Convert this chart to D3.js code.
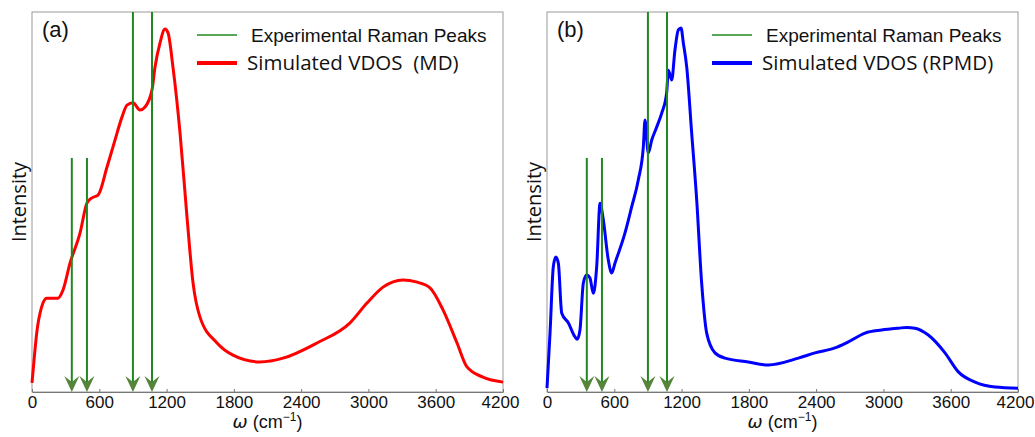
<!DOCTYPE html>
<html><head><meta charset="utf-8">
<script src="https://cdn.jsdelivr.net/npm/d3@7"></script>
<style>body{margin:0;background:#fff;} svg{display:block;}</style>
</head><body>
<svg id="chart" width="1035" height="437"></svg>
<script>
const xTicks = [0, 600, 1200, 1800, 2400, 3000, 3600, 4200];
const ramanPeaks = [355, 490, 900, 1070];
const ramanHeights = [0.616, 0.616, 1.0, 1.0];

const omegaMD = [0, 20, 42, 86, 131, 232, 276, 339, 428, 490, 535, 589, 669, 740, 803, 847, 901, 963, 1008, 1070, 1097, 1141, 1186, 1213, 1257, 1320, 1382, 1436, 1498, 1650, 1792, 2033, 2238, 2541, 2836, 2987, 3130, 3308, 3433, 3549, 3665, 3790, 3879, 4021, 4200];
const intensityMD = [0.024, 0.09, 0.155, 0.224, 0.247, 0.247, 0.268, 0.339, 0.418, 0.497, 0.511, 0.518, 0.592, 0.663, 0.724, 0.755, 0.761, 0.742, 0.75, 0.795, 0.855, 0.918, 0.955, 0.945, 0.855, 0.682, 0.461, 0.287, 0.197, 0.129, 0.097, 0.079, 0.089, 0.129, 0.182, 0.234, 0.276, 0.295, 0.289, 0.274, 0.216, 0.129, 0.066, 0.039, 0.026];

const omegaRPMD = [0, 27, 56, 78, 101, 131, 190, 250, 270, 294, 324, 354, 383, 413, 443, 473, 502, 547, 577, 606, 695, 755, 814, 859, 874, 903, 934, 978, 1023, 1067, 1082, 1112, 1141, 1171, 1195, 1216, 1246, 1290, 1335, 1379, 1424, 1498, 1587, 1795, 1973, 2241, 2390, 2568, 2687, 2836, 2984, 3133, 3207, 3281, 3400, 3549, 3668, 3817, 3995, 4200];
const intensityRPMD = [0.01, 0.155, 0.329, 0.355, 0.339, 0.208, 0.182, 0.145, 0.139, 0.163, 0.287, 0.308, 0.3, 0.26, 0.329, 0.497, 0.453, 0.347, 0.313, 0.339, 0.418, 0.487, 0.558, 0.645, 0.716, 0.629, 0.663, 0.697, 0.734, 0.787, 0.847, 0.821, 0.9, 0.953, 0.958, 0.918, 0.855, 0.682, 0.505, 0.287, 0.155, 0.103, 0.089, 0.079, 0.071, 0.089, 0.103, 0.116, 0.132, 0.155, 0.163, 0.168, 0.17, 0.168, 0.15, 0.103, 0.053, 0.026, 0.013, 0.01];

const panels = [
  {x0: 32, x1: 503, label: "(a)", omega: omegaMD, inten: intensityMD, color: "#ff0000", name: "Simulated VDOS  (MD)"},
  {x0: 547, x1: 1018, label: "(b)", omega: omegaRPMD, inten: intensityRPMD, color: "#0000ff", name: "Simulated VDOS (RPMD)"}
];
const yTop = 12, yBot = 392;
const svg = d3.select("#chart");
const sans = "'Liberation Sans', Arial, sans-serif";
const open = "'Open Sans', sans-serif";

panels.forEach(p => {
  const x = d3.scaleLinear().domain([0, 4200]).range([p.x0, p.x1]);
  const y = d3.scaleLinear().domain([0, 1]).range([yBot, yTop]);
  const g = svg.append("g");

  g.append("rect").attr("x", p.x0).attr("y", yTop).attr("width", p.x1 - p.x0).attr("height", yBot - yTop)
    .attr("fill", "none").attr("stroke", "#9a9a9a").attr("stroke-width", 1);

  const ax = g.append("g").attr("transform", `translate(0,${yBot})`)
    .call(d3.axisBottom(x).tickValues(xTicks).tickFormat(d3.format("d")).tickSizeInner(-3).tickSizeOuter(0));
  ax.select(".domain").attr("stroke", "#777");
  ax.selectAll(".tick line").attr("stroke", "#777");
  ax.selectAll(".tick text").attr("font-family", sans).attr("font-size", 17).attr("fill", "#111")
    .attr("y", 16).attr("dy", 0)
    .attr("dx", d => d === 4200 ? -3 : 0);

  const data = p.omega.map((w, i) => [w, p.inten[i]]);
  g.append("path").datum(data)
    .attr("d", d3.line().x(d => x(d[0])).y(d => y(d[1])).curve(d3.curveMonotoneX))
    .attr("fill", "none").attr("stroke", p.color).attr("stroke-width", 3).attr("stroke-linejoin", "round");

  ramanPeaks.forEach((w, i) => {
    g.append("line").attr("x1", x(w)).attr("x2", x(w)).attr("y1", y(ramanHeights[i])).attr("y2", yBot - 6)
      .attr("stroke", "#1f8a1f").attr("stroke-width", 2);
    g.append("path").attr("transform", `translate(${x(w)},${yBot})`)
      .attr("d", "M0,0 L-7.5,-16 L0,-10 L7.5,-16 Z").attr("fill", "#55843a");
  });

  g.append("text").attr("x", p.x0 + 10).attr("y", 37).text(p.label)
    .attr("font-family", sans).attr("font-size", 22).attr("fill", "#111");

  g.append("line").attr("x1", p.x0 + 165).attr("x2", p.x0 + 205).attr("y1", 35).attr("y2", 35)
    .attr("stroke", "#1f8a1f").attr("stroke-width", 1.5);
  g.append("text").attr("x", p.x0 + 219).attr("y", 42).text("Experimental Raman Peaks")
    .attr("font-family", sans).attr("font-size", 19).attr("fill", "#111");
  g.append("line").attr("x1", p.x0 + 165).attr("x2", p.x0 + 205).attr("y1", 63).attr("y2", 63)
    .attr("stroke", p.color).attr("stroke-width", 4);
  g.append("text").attr("x", p.x0 + 215).attr("y", 70).text(p.name)
    .style("white-space", "pre")
    .attr("font-family", open).attr("font-size", 20.5).attr("fill", "#111");

  g.append("text").attr("transform", `translate(${p.x0 - 6},202) rotate(-90)`).attr("text-anchor", "middle")
    .text("Intensity").attr("font-family", open).attr("font-size", 20).attr("fill", "#111");

  const xl = g.append("text").attr("x", (p.x0 + p.x1) / 2).attr("y", 428).attr("text-anchor", "middle")
    .attr("font-family", sans).attr("font-size", 18).attr("fill", "#111");
  xl.append("tspan").attr("font-style", "italic").attr("font-family", "'DejaVu Sans', sans-serif").text("ω");
  xl.append("tspan").text(" (cm");
  xl.append("tspan").attr("dy", -7).attr("font-size", 12).text("−1");
  xl.append("tspan").attr("dy", 7).text(")");
});
</script>
</body></html>
